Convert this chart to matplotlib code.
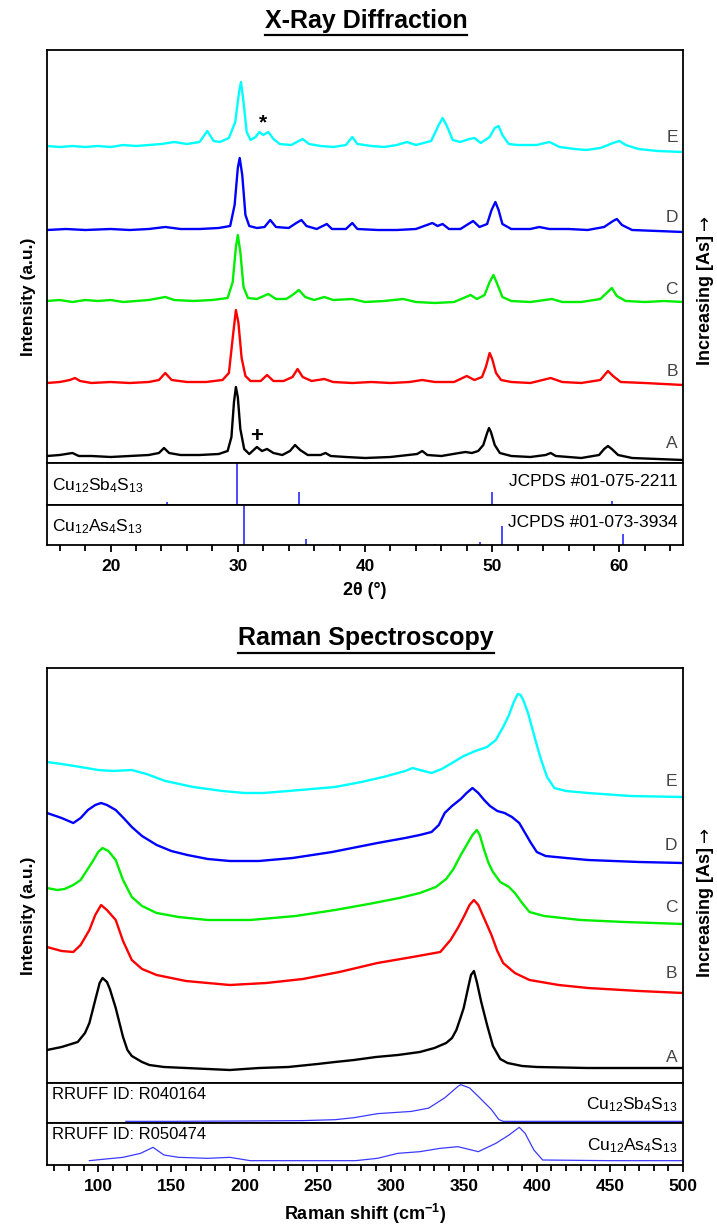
import matplotlib
matplotlib.use("Agg")
import matplotlib.pyplot as plt
from matplotlib.lines import Line2D
from matplotlib.ticker import MultipleLocator

plt.rcParams['font.family'] = ['Liberation Sans', 'DejaVu Sans']
plt.rcParams['mathtext.fontset'] = 'custom'
plt.rcParams['mathtext.rm'] = 'Liberation Sans'
plt.rcParams['mathtext.bf'] = 'Liberation Sans:bold'
plt.rcParams['mathtext.default'] = 'regular'

# ---------------- XRD data (2theta, relative intensity) ----------------
xrd_labels = ['A', 'B', 'C', 'D', 'E']
xrd_colors = ['#000000', '#ff0000', '#00ee00', '#0000ff', '#00ffff']
xrd_offsets = [6, 80, 161, 233, 316]

xrd_A = [(15,1),(16,2),(17,4),(17.5,1),(18.5,1),(20,0),(21.5,1),(23,2),(23.8,4),(24.2,9),(24.6,4),(25.5,2),
         (27,2),(28.5,3),(29.2,6),(29.5,20),(29.7,55),(29.85,70),(30.0,60),(30.2,28),(30.5,8),(30.9,3),
         (31.5,10),(31.9,6),(32.3,8),(32.8,4),(33.5,2),(34.1,6),(34.5,12),(34.9,7),(35.5,2),(36.5,2),(36.9,4),
         (37.3,1),(38.5,0),(40,-1),(42,0),(44.1,3),(44.5,6),(44.9,2),(46,1),(47.4,4),(47.9,5),(48.4,4),(48.9,6),
         (49.3,12),(49.6,24),(49.75,29),(49.9,25),(50.2,12),(50.6,4),(51.5,1),(53,0),(54.2,2),(54.6,4),(55,1),
         (57,-1),(58.4,2),(58.8,8),(59.1,11),(59.4,8),(59.9,2),(61,-1),(63,-2),(65,-3)]
xrd_B = [(15,0),(16,1),(16.8,3),(17.2,5),(17.6,2),(18.5,0),(20,1),(21.5,0),(23,1),(23.8,3),(24.3,10),(24.8,3),
         (26,1),(27.5,1),(28.8,3),(29.3,10),(29.6,45),(29.85,73),(30.05,60),(30.3,25),(30.6,7),(31,2),(31.8,2),
         (32.3,8),(32.8,2),(33.6,2),(34.3,6),(34.7,14),(35.1,6),(35.8,2),(36.8,4),(37.5,1),(39,0),(40.5,1),(42,0),
         (43.5,1),(44.5,3),(45.5,1),(47,1),(48,7),(48.6,3),(49.2,6),(49.5,16),(49.8,30),(50.0,24),(50.3,10),
         (50.7,3),(51.5,1),(53,0),(54.6,5),(55.5,1),(57,0),(58.5,3),(59.1,12),(59.5,7),(60.1,1),(62,0),(63.5,-1),(65,-2)]
xrd_C = [(15,1),(16,2),(17,0),(18,2),(19,1),(20,2),(21,0),(22,1),(23,2),(24.3,5),(25,2),(26.5,1),(28,2),(29.2,4),
         (29.6,20),(29.85,55),(30.0,67),(30.2,50),(30.45,15),(30.8,4),(31.5,3),(32.4,8),(33.0,3),(33.8,3),(34.3,7),
         (34.8,12),(35.3,5),(36,2),(36.8,5),(37.5,2),(39,3),(40,0),(41.5,1),(43.0,3),(44,0),(45.5,-1),(47,0),
         (48.3,7),(48.8,3),(49.4,7),(49.8,20),(50.1,27),(50.4,18),(50.8,5),(51.5,1),(53,0),(54.7,3),(55.5,0),(57,0),
         (58.5,3),(59.0,9),(59.4,14),(59.8,6),(60.5,1),(62,0),(63.5,1),(65,0)]
xrd_D = [(15,0),(16.5,1),(18,0),(20,1),(21.5,0),(23,1),(24.3,3),(25.5,1),(27,1),(28.5,2),(29.4,4),(29.75,25),
         (30.0,62),(30.15,72),(30.35,55),(30.6,15),(30.9,4),(31.5,2),(32.1,3),(32.55,10),(33.0,3),(34,2),(34.6,7),
         (35.0,10),(35.4,4),(36.2,1),(37.0,6),(37.4,1),(38.5,1),(39.0,7),(39.4,1),(41,0),(42.5,0),(44,1),(45.3,7),
         (45.7,4),(46.1,6),(46.6,1),(47.5,1),(48.5,9),(49.0,3),(49.6,6),(49.95,20),(50.25,28),(50.5,20),(50.8,6),
         (51.5,1),(53.0,1),(53.7,3),(54.5,1),(56,1),(57.5,0),(58.8,3),(59.5,9),(59.8,11),(60.2,5),(61,0),(63,-1),(65,-2)]
xrd_E = [(15,1),(16,0),(17,1),(18,0),(19,1),(20,0),(21,2),(22,1),(23,2),(24,3),(25,5),(26,3),(27,5),(27.6,16),
         (28.1,6),(28.6,5),(29.3,9),(29.8,25),(30.1,55),(30.25,65),(30.45,45),(30.7,15),(31.0,7),(31.4,10),(31.7,15),
         (32.0,12),(32.4,15),(32.8,8),(33.3,3),(34.2,2),(35.1,8),(35.6,3),(36.5,1),(37.5,0),(38.5,2),(39.0,10),
         (39.4,3),(40.5,1),(41.5,0),(42.5,2),(43.3,5),(44,2),(45.2,6),(45.8,22),(46.1,29),(46.4,22),(46.9,7),
         (47.5,5),(48.2,8),(48.6,9),(49.1,4),(49.8,10),(50.2,19),(50.5,21),(50.8,12),(51.3,3),(52,2),(53.5,2),
         (54.5,5),(55.3,0),(56.5,-2),(57.4,-3),(58.5,-1),(59.5,4),(60.0,6),(60.5,2),(61.5,-2),(63,-4),(65,-5)]
xrd_series = [xrd_A, xrd_B, xrd_C, xrd_D, xrd_E]

# Reference stick patterns
sb_pos = [17.3, 24.45, 29.95, 34.8, 37.0, 49.95, 59.4]
sb_int = [3, 6, 100, 30, 3, 30, 10]
as_pos = [21.5, 30.45, 35.35, 37.5, 45.5, 49.05, 50.8, 55.7, 60.3]
as_int = [2, 100, 15, 2, 2, 7, 48, 1, 27]

# ---------------- Raman data (shift, relative intensity) ----------------
ram_offsets = [15, 90, 158, 220, 286]
ram_A = [(65,18),(75,21),(86,26),(91,35),(94,45),(98,68),(101,85),(103,90),(106,86),(108,79),(112,60),(117,31),
         (120,18),(123,12),(130,6),(135,3),(145,1),(160,0),(175,-1),(190,-2),(210,0),(230,1),(250,4),(262,6),
         (275,8),(290,11),(305,13),(320,16),(330,20),(338,25),(342,30),(345,38),(348,51),(350,60),(353,80),
         (355,93),(357,97),(359,86),(362,66),(366,43),(370,22),(375,9),(380,5),(390,2),(400,1),(435,0),(470,0),(500,0)]
ram_B = [(65,46),(75,42),(83,41),(88,48),(94,63),(98,78),(102,88),(106,83),(112,73),(117,52),(123,33),(130,24),
         (140,18),(160,12),(190,8),(215,10),(240,14),(265,21),(291,30),(315,36),(334,41),(341,53),(346,65),
         (350,76),(354,88),(357,93),(360,88),(363,78),(366,68),(369,58),(373,42),(377,30),(385,20),(395,13),
         (415,8),(435,5),(470,2),(500,0)]
ram_C = [(65,37),(72,35),(77,36),(83,40),(88,45),(92,54),(96,63),(100,73),(103,77),(107,74),(112,65),(117,45),
         (123,28),(130,19),(140,12),(155,8),(175,5),(204,5),(235,9),(262,15),(285,21),(306,27),(320,32),(331,38),
         (338,46),(343,56),(348,70),(352,80),(356,90),(359,95),(361,90),(364,75),(367,62),(370,53),(375,43),
         (381,38),(385,32),(390,22),(395,13),(405,9),(430,5),(460,3),(500,1)]
ram_D = [(65,50),(75,45),(83,40),(88,45),(93,53),(98,58),(102,60),(106,58),(112,53),(118,44),(123,36),(130,27),
         (140,18),(150,12),(161,8),(175,4),(190,2),(210,2),(233,5),(260,11),(291,20),(310,25),(320,28),(328,31),
         (333,38),(337,50),(342,57),(348,64),(352,70),(356,75),(360,70),(364,63),(368,57),(373,52),(378,50),
         (383,46),(388,40),(392,30),(396,20),(400,11),(406,7),(420,5),(435,3),(470,1),(500,0)]
ram_E = [(65,35),(75,33),(88,30),(100,27),(110,26),(123,27),(133,23),(146,16),(165,10),(185,6),(200,4),(213,4),
         (230,6),(262,10),(280,15),(295,20),(310,26),(315,29),(320,27),(328,24),(335,28),(342,34),(350,41),
         (358,46),(366,50),(372,57),(377,70),(381,82),(384,94),(387,103),(389,102),(391,96),(394,84),(397,68),
         (400,52),(403,37),(407,20),(412,9),(420,6),(435,4),(464,1),(500,0)]
ram_series = [ram_A, ram_B, ram_C, ram_D, ram_E]

rruff_sb = [(119,0),(150,0),(200,0.01),(240,0.02),(262,0.045),(275,0.1),(291,0.21),(314,0.27),(326,0.36),
            (337,0.64),(346,0.95),(348,1.0),(354,0.91),(360,0.68),(369,0.32),(374,0.05),(377,0),(420,0),(500,0)]
rruff_as = [(94,0),(103,0.04),(117,0.10),(129,0.22),(137.5,0.40),(145,0.17),(155,0.10),(175,0.07),(190,0.10),
            (204,0),(276,0),(291,0.07),(305,0.22),(320,0.27),(334,0.37),(346,0.42),(360,0.27),(372,0.52),
            (381,0.77),(388,1.0),(392,0.82),(398,0.32),(404,0.02),(450,0),(500,0)]

# ---------------- layout helpers ----------------
W, H = 717, 1232
fig = plt.figure(figsize=(W / 100, H / 100), dpi=100)

def px_axes(x0, y0, x1, y1):
    return fig.add_axes([x0 / W, 1 - y1 / H, (x1 - x0) / W, (y1 - y0) / H])

FRAME_LW = 1.3
STICK = '#3a3aff'
TRACE_LW = 1.7

def style(ax):
    for s in ax.spines.values():
        s.set_linewidth(FRAME_LW)
    ax.set_yticks([])
    ax.tick_params(axis='x', bottom=False, labelbottom=False)

# ============ XRD ============
L, R = 47, 683
ax1 = px_axes(L, 50, R, 463)
ax2 = px_axes(L, 463, R, 505)
ax3 = px_axes(L, 505, R, 545)
for a in (ax1, ax2, ax3):
    style(a)
    a.set_xlim(15, 65)

for ser, off, col in zip(xrd_series, xrd_offsets, xrd_colors):
    xs = [p[0] for p in ser]
    ys = [p[1] + off for p in ser]
    ax1.plot(xs, ys, color=col, lw=TRACE_LW)
ax1.set_ylim(0, 413)
lab_y = [20, 91, 173, 246, 326]
for lab, yy in zip(xrd_labels, lab_y):
    ax1.text(64.6, yy, lab, ha='right', va='center', fontsize=12.5, color='#444444')
ax1.text(32.0, 340, '*', ha='center', va='center', fontsize=15, fontweight='bold')
ax1.text(31.5, 27, '+', ha='center', va='center', fontsize=16, fontweight='bold')

ax2.vlines(sb_pos, 0, sb_int, color=STICK, lw=1.3)
ax2.set_ylim(0, 100)
ax2.text(0.008, 0.45, r'Cu$_{12}$Sb$_4$S$_{13}$', transform=ax2.transAxes, ha='left', va='center', fontsize=12.5)
ax2.text(0.992, 0.55, 'JCPDS #01-075-2211', transform=ax2.transAxes, ha='right', va='center', fontsize=12.5)

ax3.vlines(as_pos, 0, as_int, color=STICK, lw=1.3)
ax3.set_ylim(0, 100)
ax3.text(0.008, 0.45, r'Cu$_{12}$As$_4$S$_{13}$', transform=ax3.transAxes, ha='left', va='center', fontsize=12.5)
ax3.text(0.992, 0.57, 'JCPDS #01-073-3934', transform=ax3.transAxes, ha='right', va='center', fontsize=12.5)

ax3.tick_params(axis='x', which='both', bottom=True, labelbottom=True, direction='out')
ax3.xaxis.set_major_locator(MultipleLocator(10))
ax3.xaxis.set_minor_locator(MultipleLocator(2))
ax3.tick_params(axis='x', which='major', length=5, width=1.3, labelsize=12.5, pad=5)
ax3.tick_params(axis='x', which='minor', length=4, width=1.3)
for t in ax3.get_xticklabels():
    t.set_fontweight('bold')
ax3.set_xlabel('2θ (°)', fontsize=13, fontweight='bold', labelpad=6)

fig.text(28 / W, 1 - 297 / H, 'Intensity (a.u.)', rotation=90, ha='center', va='center',
         fontsize=12.5, fontweight='bold')

# ============ Raman ============
bx1 = px_axes(L, 668, R, 1083)
bx2 = px_axes(L, 1083, R, 1123)
bx3 = px_axes(L, 1123, R, 1165)
for a in (bx1, bx2, bx3):
    style(a)
    a.set_xlim(65, 500)

for ser, off, col in zip(ram_series, ram_offsets, xrd_colors):
    xs = [p[0] for p in ser]
    ys = [p[1] + off for p in ser]
    bx1.plot(xs, ys, color=col, lw=TRACE_LW)
bx1.set_ylim(0, 415)
rlab_y = [26, 110, 175, 238, 301]
for lab, yy in zip(xrd_labels, rlab_y):
    bx1.text(496, yy, lab, ha='right', va='center', fontsize=12.5, color='#444444')

bx2.plot([p[0] for p in rruff_sb], [p[1] for p in rruff_sb], color=STICK, lw=0.9)
bx2.set_ylim(-0.045, 1.045)
bx2.text(0.008, 0.71, 'RRUFF ID: R040164', transform=bx2.transAxes, ha='left', va='center', fontsize=12)
bx2.text(0.992, 0.45, r'Cu$_{12}$Sb$_4$S$_{13}$', transform=bx2.transAxes, ha='right', va='center', fontsize=12.5)

bx3.plot([p[0] for p in rruff_as], [p[1] for p in rruff_as], color=STICK, lw=0.9)
bx3.set_ylim(-0.13, 1.13)
bx3.text(0.008, 0.72, 'RRUFF ID: R050474', transform=bx3.transAxes, ha='left', va='center', fontsize=12)
bx3.text(0.992, 0.47, r'Cu$_{12}$As$_4$S$_{13}$', transform=bx3.transAxes, ha='right', va='center', fontsize=12.5)

bx3.tick_params(axis='x', which='both', bottom=True, labelbottom=True, direction='out')
bx3.xaxis.set_major_locator(MultipleLocator(50))
bx3.xaxis.set_minor_locator(MultipleLocator(10))
bx3.tick_params(axis='x', which='major', length=5, width=1.3, labelsize=12.5, pad=5)
bx3.tick_params(axis='x', which='minor', length=4, width=1.3)
for t in bx3.get_xticklabels():
    t.set_fontweight('bold')
bx3.set_xlabel(r'Raman shift (cm$^{\mathbf{-1}}$)', fontsize=13, fontweight='bold', labelpad=6)

fig.text(28 / W, 1 - 916 / H, 'Intensity (a.u.)', rotation=90, ha='center', va='center',
         fontsize=12.5, fontweight='bold')

# right-hand labels: text + arrow (arrow drawn with DejaVu Sans glyph)
right_objs = []
for yc in (300, 912):
    t = fig.text(705 / W, 1 - yc / H, 'Increasing [As]', rotation=90, ha='center', va='center',
                 fontsize=13, fontweight='bold')
    right_objs.append(t)

# ============ Titles with underline ============
titles = [('X-Ray Diffraction', 21, 35), ('Raman Spectroscopy', 638, 653)]
title_objs = []
for txt, yc, yu in titles:
    t = fig.text(366 / W, 1 - yc / H, txt, ha='center', va='center', fontsize=18, fontweight='bold')
    title_objs.append((t, yu))
fig.canvas.draw()
r = fig.canvas.get_renderer()
for t, yu in title_objs:
    bb = t.get_window_extent(r)
    fig.add_artist(Line2D([bb.x0 / W, bb.x1 / W], [1 - yu / H, 1 - yu / H],
                          transform=fig.transFigure, color='black', lw=1.6))
for t in right_objs:
    bb = t.get_window_extent(r)
    fig.text(705 / W, (bb.y1 + 5) / H, '→', rotation=90, ha='center', va='bottom',
             fontsize=13, family='DejaVu Sans')

fig.savefig('out.png', dpi=100)
